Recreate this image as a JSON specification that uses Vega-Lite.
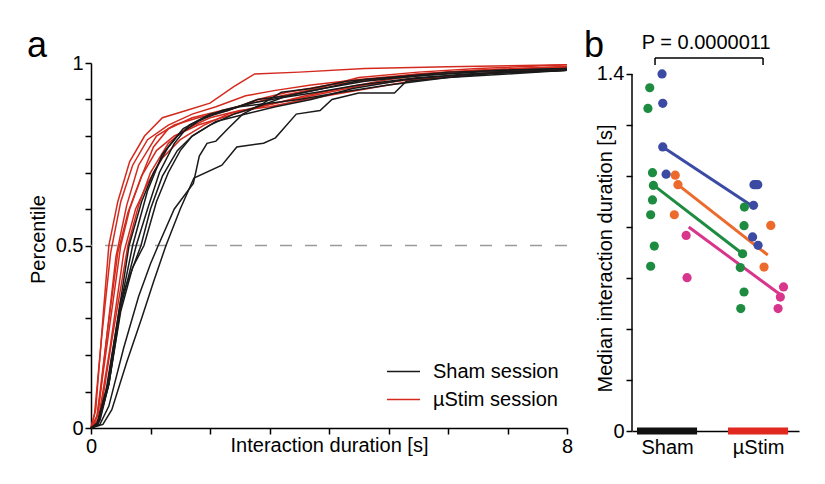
{
  "$schema": "https://vega.github.io/schema/vega-lite/v6.json",
  "padding": {"left": 26, "top": 27, "right": 20, "bottom": 10},
  "background": "white",
  "config": {
    "font": "Liberation Sans",
    "view": {"stroke": null},
    "axis": {
      "domainColor": "#000", "tickColor": "#000", "labelColor": "#000", "titleColor": "#000",
      "labelFontSize": 20, "titleFontSize": 20, "titleFontWeight": "normal",
      "domainWidth": 1.5, "tickWidth": 1.5, "tickSize": 6, "grid": false, "labelPadding": 2,
      "labelOverlap": false, "labelFlush": false, "labelFont": "Liberation Sans", "titleFont": "Liberation Sans"
    }
  },
  "datasets": {
    "cdf": [
      {"session":"µStim session","curve":"R1","t":0,"p":0},{"session":"µStim session","curve":"R1","t":0.08,"p":0.05},{"session":"µStim session","curve":"R1","t":0.2,"p":0.3},{"session":"µStim session","curve":"R1","t":0.3,"p":0.5},{"session":"µStim session","curve":"R1","t":0.45,"p":0.62},{"session":"µStim session","curve":"R1","t":0.65,"p":0.73},{"session":"µStim session","curve":"R1","t":0.9,"p":0.8},{"session":"µStim session","curve":"R1","t":1.2,"p":0.85},{"session":"µStim session","curve":"R1","t":1.6,"p":0.87},{"session":"µStim session","curve":"R1","t":2.0,"p":0.89},{"session":"µStim session","curve":"R1","t":2.4,"p":0.935},{"session":"µStim session","curve":"R1","t":2.6,"p":0.955},{"session":"µStim session","curve":"R1","t":2.75,"p":0.97},{"session":"µStim session","curve":"R1","t":3.5,"p":0.975},{"session":"µStim session","curve":"R1","t":4.6,"p":0.985},{"session":"µStim session","curve":"R1","t":6,"p":0.99},{"session":"µStim session","curve":"R1","t":8,"p":0.995},
      {"session":"µStim session","curve":"R2","t":0,"p":0},{"session":"µStim session","curve":"R2","t":0.12,"p":0.04},{"session":"µStim session","curve":"R2","t":0.3,"p":0.3},{"session":"µStim session","curve":"R2","t":0.42,"p":0.47},{"session":"µStim session","curve":"R2","t":0.6,"p":0.61},{"session":"µStim session","curve":"R2","t":0.8,"p":0.72},{"session":"µStim session","curve":"R2","t":1.1,"p":0.8},{"session":"µStim session","curve":"R2","t":1.4,"p":0.83},{"session":"µStim session","curve":"R2","t":1.8,"p":0.85},{"session":"µStim session","curve":"R2","t":2.3,"p":0.87},{"session":"µStim session","curve":"R2","t":2.8,"p":0.9},{"session":"µStim session","curve":"R2","t":3.3,"p":0.92},{"session":"µStim session","curve":"R2","t":4.0,"p":0.94},{"session":"µStim session","curve":"R2","t":4.8,"p":0.955},{"session":"µStim session","curve":"R2","t":5.5,"p":0.97},{"session":"µStim session","curve":"R2","t":6.5,"p":0.98},{"session":"µStim session","curve":"R2","t":8,"p":0.99},
      {"session":"µStim session","curve":"R3","t":0,"p":0},{"session":"µStim session","curve":"R3","t":0.1,"p":0.03},{"session":"µStim session","curve":"R3","t":0.28,"p":0.24},{"session":"µStim session","curve":"R3","t":0.5,"p":0.5},{"session":"µStim session","curve":"R3","t":0.65,"p":0.6},{"session":"µStim session","curve":"R3","t":0.85,"p":0.69},{"session":"µStim session","curve":"R3","t":1.05,"p":0.77},{"session":"µStim session","curve":"R3","t":1.3,"p":0.82},{"session":"µStim session","curve":"R3","t":1.7,"p":0.85},{"session":"µStim session","curve":"R3","t":2.2,"p":0.87},{"session":"µStim session","curve":"R3","t":2.7,"p":0.89},{"session":"µStim session","curve":"R3","t":3.2,"p":0.91},{"session":"µStim session","curve":"R3","t":3.8,"p":0.93},{"session":"µStim session","curve":"R3","t":4.5,"p":0.96},{"session":"µStim session","curve":"R3","t":5.5,"p":0.975},{"session":"µStim session","curve":"R3","t":6.5,"p":0.985},{"session":"µStim session","curve":"R3","t":8,"p":0.995},
      {"session":"µStim session","curve":"R4","t":0,"p":0},{"session":"µStim session","curve":"R4","t":0.15,"p":0.03},{"session":"µStim session","curve":"R4","t":0.35,"p":0.24},{"session":"µStim session","curve":"R4","t":0.62,"p":0.5},{"session":"µStim session","curve":"R4","t":0.8,"p":0.61},{"session":"µStim session","curve":"R4","t":1.0,"p":0.7},{"session":"µStim session","curve":"R4","t":1.3,"p":0.78},{"session":"µStim session","curve":"R4","t":1.6,"p":0.82},{"session":"µStim session","curve":"R4","t":2.0,"p":0.85},{"session":"µStim session","curve":"R4","t":2.5,"p":0.87},{"session":"µStim session","curve":"R4","t":3.0,"p":0.88},{"session":"µStim session","curve":"R4","t":3.6,"p":0.9},{"session":"µStim session","curve":"R4","t":4.3,"p":0.92},{"session":"µStim session","curve":"R4","t":5.0,"p":0.94},{"session":"µStim session","curve":"R4","t":5.8,"p":0.96},{"session":"µStim session","curve":"R4","t":6.8,"p":0.975},{"session":"µStim session","curve":"R4","t":8,"p":0.985},
      {"session":"µStim session","curve":"R5","t":0,"p":0},{"session":"µStim session","curve":"R5","t":0.06,"p":0.04},{"session":"µStim session","curve":"R5","t":0.18,"p":0.25},{"session":"µStim session","curve":"R5","t":0.33,"p":0.48},{"session":"µStim session","curve":"R5","t":0.5,"p":0.62},{"session":"µStim session","curve":"R5","t":0.7,"p":0.72},{"session":"µStim session","curve":"R5","t":0.95,"p":0.79},{"session":"µStim session","curve":"R5","t":1.3,"p":0.83},{"session":"µStim session","curve":"R5","t":1.7,"p":0.86},{"session":"µStim session","curve":"R5","t":2.1,"p":0.88},{"session":"µStim session","curve":"R5","t":2.6,"p":0.91},{"session":"µStim session","curve":"R5","t":3.1,"p":0.925},{"session":"µStim session","curve":"R5","t":3.7,"p":0.94},{"session":"µStim session","curve":"R5","t":4.5,"p":0.955},{"session":"µStim session","curve":"R5","t":5.5,"p":0.97},{"session":"µStim session","curve":"R5","t":6.5,"p":0.98},{"session":"µStim session","curve":"R5","t":8,"p":0.99},
      {"session":"µStim session","curve":"R6","t":0,"p":0},{"session":"µStim session","curve":"R6","t":0.12,"p":0.02},{"session":"µStim session","curve":"R6","t":0.32,"p":0.22},{"session":"µStim session","curve":"R6","t":0.55,"p":0.48},{"session":"µStim session","curve":"R6","t":0.75,"p":0.6},{"session":"µStim session","curve":"R6","t":0.95,"p":0.67},{"session":"µStim session","curve":"R6","t":1.2,"p":0.74},{"session":"µStim session","curve":"R6","t":1.5,"p":0.79},{"session":"µStim session","curve":"R6","t":1.9,"p":0.83},{"session":"µStim session","curve":"R6","t":2.3,"p":0.86},{"session":"µStim session","curve":"R6","t":2.8,"p":0.88},{"session":"µStim session","curve":"R6","t":3.4,"p":0.9},{"session":"µStim session","curve":"R6","t":4.0,"p":0.92},{"session":"µStim session","curve":"R6","t":4.6,"p":0.94},{"session":"µStim session","curve":"R6","t":5.4,"p":0.955},{"session":"µStim session","curve":"R6","t":6.5,"p":0.97},{"session":"µStim session","curve":"R6","t":8,"p":0.985},
      {"session":"µStim session","curve":"R7","t":0,"p":0},{"session":"µStim session","curve":"R7","t":0.1,"p":0.03},{"session":"µStim session","curve":"R7","t":0.28,"p":0.27},{"session":"µStim session","curve":"R7","t":0.45,"p":0.48},{"session":"µStim session","curve":"R7","t":0.62,"p":0.59},{"session":"µStim session","curve":"R7","t":0.85,"p":0.69},{"session":"µStim session","curve":"R7","t":1.1,"p":0.76},{"session":"µStim session","curve":"R7","t":1.4,"p":0.8},{"session":"µStim session","curve":"R7","t":1.8,"p":0.83},{"session":"µStim session","curve":"R7","t":2.2,"p":0.85},{"session":"µStim session","curve":"R7","t":2.6,"p":0.87},{"session":"µStim session","curve":"R7","t":3.1,"p":0.89},{"session":"µStim session","curve":"R7","t":3.6,"p":0.91},{"session":"µStim session","curve":"R7","t":4.2,"p":0.93},{"session":"µStim session","curve":"R7","t":5.0,"p":0.955},{"session":"µStim session","curve":"R7","t":6.0,"p":0.975},{"session":"µStim session","curve":"R7","t":8,"p":0.99},
      {"session":"Sham session","curve":"B1","t":0,"p":0},{"session":"Sham session","curve":"B1","t":0.2,"p":0.01},{"session":"Sham session","curve":"B1","t":0.35,"p":0.05},{"session":"Sham session","curve":"B1","t":0.6,"p":0.18},{"session":"Sham session","curve":"B1","t":0.85,"p":0.3},{"session":"Sham session","curve":"B1","t":1.05,"p":0.4},{"session":"Sham session","curve":"B1","t":1.26,"p":0.5},{"session":"Sham session","curve":"B1","t":1.5,"p":0.6},{"session":"Sham session","curve":"B1","t":1.73,"p":0.685},{"session":"Sham session","curve":"B1","t":2.2,"p":0.72},{"session":"Sham session","curve":"B1","t":2.45,"p":0.77},{"session":"Sham session","curve":"B1","t":2.9,"p":0.78},{"session":"Sham session","curve":"B1","t":3.1,"p":0.795},{"session":"Sham session","curve":"B1","t":3.45,"p":0.86},{"session":"Sham session","curve":"B1","t":3.85,"p":0.87},{"session":"Sham session","curve":"B1","t":4.05,"p":0.9},{"session":"Sham session","curve":"B1","t":4.5,"p":0.918},{"session":"Sham session","curve":"B1","t":5.1,"p":0.918},{"session":"Sham session","curve":"B1","t":5.3,"p":0.95},{"session":"Sham session","curve":"B1","t":6.0,"p":0.96},{"session":"Sham session","curve":"B1","t":7.0,"p":0.975},{"session":"Sham session","curve":"B1","t":8,"p":0.98},
      {"session":"Sham session","curve":"B2","t":0,"p":0},{"session":"Sham session","curve":"B2","t":0.15,"p":0.01},{"session":"Sham session","curve":"B2","t":0.3,"p":0.06},{"session":"Sham session","curve":"B2","t":0.55,"p":0.22},{"session":"Sham session","curve":"B2","t":0.8,"p":0.36},{"session":"Sham session","curve":"B2","t":1.0,"p":0.45},{"session":"Sham session","curve":"B2","t":1.13,"p":0.5},{"session":"Sham session","curve":"B2","t":1.4,"p":0.6},{"session":"Sham session","curve":"B2","t":1.72,"p":0.67},{"session":"Sham session","curve":"B2","t":1.82,"p":0.745},{"session":"Sham session","curve":"B2","t":1.95,"p":0.78},{"session":"Sham session","curve":"B2","t":2.1,"p":0.786},{"session":"Sham session","curve":"B2","t":2.3,"p":0.82},{"session":"Sham session","curve":"B2","t":2.55,"p":0.86},{"session":"Sham session","curve":"B2","t":2.9,"p":0.89},{"session":"Sham session","curve":"B2","t":3.2,"p":0.92},{"session":"Sham session","curve":"B2","t":3.7,"p":0.93},{"session":"Sham session","curve":"B2","t":4.3,"p":0.95},{"session":"Sham session","curve":"B2","t":5.0,"p":0.96},{"session":"Sham session","curve":"B2","t":6.0,"p":0.975},{"session":"Sham session","curve":"B2","t":8,"p":0.985},
      {"session":"Sham session","curve":"B3","t":0,"p":0},{"session":"Sham session","curve":"B3","t":0.12,"p":0.01},{"session":"Sham session","curve":"B3","t":0.3,"p":0.12},{"session":"Sham session","curve":"B3","t":0.5,"p":0.32},{"session":"Sham session","curve":"B3","t":0.7,"p":0.44},{"session":"Sham session","curve":"B3","t":0.89,"p":0.5},{"session":"Sham session","curve":"B3","t":1.1,"p":0.62},{"session":"Sham session","curve":"B3","t":1.3,"p":0.7},{"session":"Sham session","curve":"B3","t":1.5,"p":0.76},{"session":"Sham session","curve":"B3","t":1.7,"p":0.8},{"session":"Sham session","curve":"B3","t":2.0,"p":0.83},{"session":"Sham session","curve":"B3","t":2.4,"p":0.86},{"session":"Sham session","curve":"B3","t":2.8,"p":0.88},{"session":"Sham session","curve":"B3","t":3.3,"p":0.91},{"session":"Sham session","curve":"B3","t":3.9,"p":0.93},{"session":"Sham session","curve":"B3","t":4.6,"p":0.95},{"session":"Sham session","curve":"B3","t":5.5,"p":0.965},{"session":"Sham session","curve":"B3","t":6.5,"p":0.975},{"session":"Sham session","curve":"B3","t":8,"p":0.98},
      {"session":"Sham session","curve":"B4","t":0,"p":0},{"session":"Sham session","curve":"B4","t":0.1,"p":0.01},{"session":"Sham session","curve":"B4","t":0.25,"p":0.1},{"session":"Sham session","curve":"B4","t":0.45,"p":0.3},{"session":"Sham session","curve":"B4","t":0.64,"p":0.5},{"session":"Sham session","curve":"B4","t":0.85,"p":0.62},{"session":"Sham session","curve":"B4","t":1.05,"p":0.7},{"session":"Sham session","curve":"B4","t":1.3,"p":0.77},{"session":"Sham session","curve":"B4","t":1.55,"p":0.82},{"session":"Sham session","curve":"B4","t":1.9,"p":0.85},{"session":"Sham session","curve":"B4","t":2.3,"p":0.87},{"session":"Sham session","curve":"B4","t":2.8,"p":0.9},{"session":"Sham session","curve":"B4","t":3.3,"p":0.91},{"session":"Sham session","curve":"B4","t":3.9,"p":0.93},{"session":"Sham session","curve":"B4","t":4.6,"p":0.955},{"session":"Sham session","curve":"B4","t":5.5,"p":0.965},{"session":"Sham session","curve":"B4","t":6.8,"p":0.98},{"session":"Sham session","curve":"B4","t":8,"p":0.985},
      {"session":"Sham session","curve":"B5","t":0,"p":0},{"session":"Sham session","curve":"B5","t":0.12,"p":0.01},{"session":"Sham session","curve":"B5","t":0.3,"p":0.12},{"session":"Sham session","curve":"B5","t":0.5,"p":0.33},{"session":"Sham session","curve":"B5","t":0.76,"p":0.5},{"session":"Sham session","curve":"B5","t":0.95,"p":0.6},{"session":"Sham session","curve":"B5","t":1.15,"p":0.7},{"session":"Sham session","curve":"B5","t":1.4,"p":0.78},{"session":"Sham session","curve":"B5","t":1.65,"p":0.83},{"session":"Sham session","curve":"B5","t":2.0,"p":0.86},{"session":"Sham session","curve":"B5","t":2.5,"p":0.88},{"session":"Sham session","curve":"B5","t":3.0,"p":0.89},{"session":"Sham session","curve":"B5","t":3.5,"p":0.9},{"session":"Sham session","curve":"B5","t":4.2,"p":0.92},{"session":"Sham session","curve":"B5","t":5.0,"p":0.94},{"session":"Sham session","curve":"B5","t":6.0,"p":0.96},{"session":"Sham session","curve":"B5","t":7.0,"p":0.97},{"session":"Sham session","curve":"B5","t":8,"p":0.98},
      {"session":"Sham session","curve":"B6","t":0,"p":0},{"session":"Sham session","curve":"B6","t":0.1,"p":0.01},{"session":"Sham session","curve":"B6","t":0.28,"p":0.12},{"session":"Sham session","curve":"B6","t":0.5,"p":0.35},{"session":"Sham session","curve":"B6","t":0.84,"p":0.5},{"session":"Sham session","curve":"B6","t":1.0,"p":0.6},{"session":"Sham session","curve":"B6","t":1.2,"p":0.69},{"session":"Sham session","curve":"B6","t":1.45,"p":0.76},{"session":"Sham session","curve":"B6","t":1.7,"p":0.8},{"session":"Sham session","curve":"B6","t":2.1,"p":0.84},{"session":"Sham session","curve":"B6","t":2.6,"p":0.86},{"session":"Sham session","curve":"B6","t":3.1,"p":0.88},{"session":"Sham session","curve":"B6","t":3.7,"p":0.9},{"session":"Sham session","curve":"B6","t":4.4,"p":0.93},{"session":"Sham session","curve":"B6","t":5.3,"p":0.955},{"session":"Sham session","curve":"B6","t":6.3,"p":0.97},{"session":"Sham session","curve":"B6","t":8,"p":0.98},
      {"session":"Sham session","curve":"B7","t":0,"p":0},{"session":"Sham session","curve":"B7","t":0.15,"p":0.02},{"session":"Sham session","curve":"B7","t":0.3,"p":0.12},{"session":"Sham session","curve":"B7","t":0.5,"p":0.34},{"session":"Sham session","curve":"B7","t":0.7,"p":0.5},{"session":"Sham session","curve":"B7","t":0.95,"p":0.65},{"session":"Sham session","curve":"B7","t":1.2,"p":0.75},{"session":"Sham session","curve":"B7","t":1.45,"p":0.8},{"session":"Sham session","curve":"B7","t":1.8,"p":0.84},{"session":"Sham session","curve":"B7","t":2.2,"p":0.87},{"session":"Sham session","curve":"B7","t":2.7,"p":0.89},{"session":"Sham session","curve":"B7","t":3.2,"p":0.905},{"session":"Sham session","curve":"B7","t":3.8,"p":0.92},{"session":"Sham session","curve":"B7","t":4.5,"p":0.94},{"session":"Sham session","curve":"B7","t":5.5,"p":0.96},{"session":"Sham session","curve":"B7","t":6.5,"p":0.97},{"session":"Sham session","curve":"B7","t":8,"p":0.98}
    ],
    "pts": [
      {"cond":"Sham","mouse":"Mouse 1","x":0.945,"y":1.40},
      {"cond":"Sham","mouse":"Mouse 3","x":0.81,"y":1.346},
      {"cond":"Sham","mouse":"Mouse 1","x":0.953,"y":1.285},
      {"cond":"Sham","mouse":"Mouse 3","x":0.79,"y":1.265},
      {"cond":"Sham","mouse":"Mouse 1","x":0.953,"y":1.114},
      {"cond":"Sham","mouse":"Mouse 3","x":0.84,"y":1.013},
      {"cond":"Sham","mouse":"Mouse 1","x":0.99,"y":1.007},
      {"cond":"Sham","mouse":"Mouse 2","x":1.09,"y":1.003},
      {"cond":"Sham","mouse":"Mouse 3","x":0.85,"y":0.963},
      {"cond":"Sham","mouse":"Mouse 2","x":1.12,"y":0.966},
      {"cond":"Sham","mouse":"Mouse 3","x":0.84,"y":0.906},
      {"cond":"Sham","mouse":"Mouse 3","x":0.82,"y":0.848},
      {"cond":"Sham","mouse":"Mouse 2","x":1.08,"y":0.848},
      {"cond":"Sham","mouse":"Mouse 4","x":1.21,"y":0.767},
      {"cond":"Sham","mouse":"Mouse 3","x":0.86,"y":0.725},
      {"cond":"Sham","mouse":"Mouse 3","x":0.82,"y":0.646},
      {"cond":"Sham","mouse":"Mouse 4","x":1.22,"y":0.601},
      {"cond":"µStim","mouse":"Mouse 1","x":1.955,"y":0.966},
      {"cond":"µStim","mouse":"Mouse 1","x":1.975,"y":0.966},
      {"cond":"µStim","mouse":"Mouse 1","x":1.997,"y":0.966},
      {"cond":"µStim","mouse":"Mouse 1","x":1.95,"y":0.885},
      {"cond":"µStim","mouse":"Mouse 3","x":1.85,"y":0.878},
      {"cond":"µStim","mouse":"Mouse 3","x":1.846,"y":0.805},
      {"cond":"µStim","mouse":"Mouse 2","x":2.14,"y":0.806},
      {"cond":"µStim","mouse":"Mouse 1","x":1.94,"y":0.761},
      {"cond":"µStim","mouse":"Mouse 1","x":2.0,"y":0.728},
      {"cond":"µStim","mouse":"Mouse 3","x":1.83,"y":0.695},
      {"cond":"µStim","mouse":"Mouse 3","x":1.805,"y":0.641},
      {"cond":"µStim","mouse":"Mouse 2","x":2.066,"y":0.643},
      {"cond":"µStim","mouse":"Mouse 4","x":2.28,"y":0.565},
      {"cond":"µStim","mouse":"Mouse 4","x":2.245,"y":0.525},
      {"cond":"µStim","mouse":"Mouse 3","x":1.846,"y":0.545},
      {"cond":"µStim","mouse":"Mouse 3","x":1.81,"y":0.48},
      {"cond":"µStim","mouse":"Mouse 4","x":2.22,"y":0.48}
    ],
    "fits": [
      {"mouse":"Mouse 1","x":0.953,"y":1.114},{"mouse":"Mouse 1","x":1.96,"y":0.876},
      {"mouse":"Mouse 2","x":1.118,"y":0.966},{"mouse":"Mouse 2","x":2.107,"y":0.69},
      {"mouse":"Mouse 3","x":0.854,"y":0.963},{"mouse":"Mouse 3","x":1.83,"y":0.695},
      {"mouse":"Mouse 4","x":1.238,"y":0.8},{"mouse":"Mouse 4","x":2.24,"y":0.536}
    ],
    "bars": [
      {"cond":"Sham","x1":0.67,"x2":1.33},
      {"cond":"µStim","x1":1.67,"x2":2.33}
    ]
  },
  "spacing": 65,
  "bounds": "flush",
  "resolve": {"scale": {"color": "independent"}},
  "hconcat": [
    {
      "width": 476,
      "height": 365,
      "layer": [
        {
          "data": {"values": [{}]},
          "mark": {"type": "rule", "color": "#9a9a9a", "strokeWidth": 1.5, "strokeDash": [12, 13]},
          "encoding": {"y": {"datum": 0.5, "type": "quantitative", "scale": {"domain": [0, 1], "nice": false},
                  "axis": {"values": [0,0.1,0.2,0.3,0.4,0.5,0.6,0.7,0.8,0.9,1], "tickCount": 20, "labelExpr": "abs(datum.value) < 0.01 ? '0' : abs(datum.value - 0.5) < 0.01 ? '0.5' : abs(datum.value - 1) < 0.01 ? '1' : ''", "title": "Percentile", "titleX": -43, "titleY": 176, "titleBaseline": "bottom"}}}
        },
        {
          "data": {"name": "cdf"},
          "mark": {"type": "line", "strokeWidth": 1.5},
          "encoding": {
            "x": {"field": "t", "type": "quantitative", "scale": {"domain": [0, 8], "nice": false},
                  "axis": {"values": [0,1,2,3,4,5,6,7,8], "tickCount": 20, "labelExpr": "abs(datum.value) < 0.01 ? '0' : abs(datum.value - 8) < 0.01 ? '8' : ''", "title": "Interaction duration [s]", "titleBaseline": "top", "titleY": 7}},
            "y": {"field": "p", "type": "quantitative", "scale": {"domain": [0, 1], "nice": false},
                  "axis": {"values": [0,0.1,0.2,0.3,0.4,0.5,0.6,0.7,0.8,0.9,1], "tickCount": 20, "labelExpr": "abs(datum.value) < 0.01 ? '0' : abs(datum.value - 0.5) < 0.01 ? '0.5' : abs(datum.value - 1) < 0.01 ? '1' : ''", "title": "Percentile", "titleX": -43, "titleY": 176, "titleBaseline": "bottom"}},
            "color": {"field": "session", "type": "nominal",
                      "scale": {"domain": ["Sham session", "µStim session"], "range": ["#1a1a1a", "#d42a1e"]},
                      "legend": {"orient": "none", "legendX": 295, "legendY": 291, "title": null, "symbolType": "stroke", "symbolSize": 1089, "symbolStrokeWidth": 1.5, "labelFontSize": 20, "labelFont": "Liberation Sans", "labelColor": "#000", "labelOffset": 12, "rowPadding": -12, "padding": 0}},
            "detail": {"field": "curve", "type": "nominal"}
          }
        },
        {
          "data": {"values": [{}]},
          "mark": {"type": "text", "fontSize": 36, "font": "Liberation Sans", "color": "#000", "align": "left", "baseline": "alphabetic"},
          "encoding": {"x": {"datum": -1.076, "type": "quantitative"}, "y": {"datum": 1.0164, "type": "quantitative"}, "text": {"value": "a"}}
        }
      ]
    },
    {
      "width": 167,
      "height": 368,
      "resolve": {"scale": {"color": "independent"}},
      "layer": [
        {
          "data": {"name": "fits"},
          "mark": {"type": "line", "strokeWidth": 3},
          "encoding": {
            "x": {"field": "x", "type": "quantitative", "scale": {"domain": [0.615, 2.45], "nice": false, "zero": false},
                  "axis": {"values": [1, 2], "labelExpr": "datum.value < 1.5 ? 'Sham' : 'µStim'", "ticks": false, "labelPadding": 6, "title": null}},
            "y": {"field": "y", "type": "quantitative", "scale": {"domain": [0, 1.443], "nice": false},
                  "axis": {"values": [0,0.2,0.4,0.6,0.8,1,1.2,1.4], "tickCount": 20, "domain": false, "labelExpr": "abs(datum.value) < 0.01 ? '0' : abs(datum.value - 1.4) < 0.01 ? '1.4' : ''", "title": "Median interaction duration [s]", "titleX": -17, "titleY": 195, "titleBaseline": "bottom"}},
            "color": {"field": "mouse", "type": "nominal", "scale": {"domain": ["Mouse 1","Mouse 2","Mouse 3","Mouse 4"], "range": ["#3b4aa3","#ec6a2c","#1e8c40","#d8368c"]}, "legend": null},
            "detail": {"field": "mouse", "type": "nominal"}
          }
        },
        {
          "data": {"name": "pts"},
          "mark": {"type": "circle", "size": 85, "opacity": 1},
          "encoding": {
            "x": {"field": "x", "type": "quantitative"},
            "y": {"field": "y", "type": "quantitative"},
            "color": {"field": "mouse", "type": "nominal", "scale": {"domain": ["Mouse 1","Mouse 2","Mouse 3","Mouse 4"], "range": ["#3b4aa3","#ec6a2c","#1e8c40","#d8368c"]}, "legend": null}
          }
        },
        {
          "data": {"values": [{}]},
          "mark": {"type": "rule", "color": "#000", "strokeWidth": 1.5},
          "encoding": {"x": {"datum": 0.615, "type": "quantitative"}, "y": {"datum": 0, "type": "quantitative"}, "y2": {"datum": 1.4}}
        },
        {
          "data": {"values": [{}]},
          "mark": {"type": "rule", "color": "#000", "strokeWidth": 1.5},
          "encoding": {"x": {"datum": 0.868, "type": "quantitative"}, "x2": {"datum": 2.055}, "y": {"datum": 1.463, "type": "quantitative"}}
        },
        {
          "data": {"values": [{}]},
          "mark": {"type": "rule", "color": "#000", "strokeWidth": 1.5},
          "encoding": {"x": {"datum": 0.868, "type": "quantitative"}, "y": {"datum": 1.463, "type": "quantitative"}, "y2": {"datum": 1.435}}
        },
        {
          "data": {"values": [{}]},
          "mark": {"type": "rule", "color": "#000", "strokeWidth": 1.5},
          "encoding": {"x": {"datum": 2.055, "type": "quantitative"}, "y": {"datum": 1.463, "type": "quantitative"}, "y2": {"datum": 1.435}}
        },
        {
          "data": {"values": [{}]},
          "mark": {"type": "text", "fontSize": 20, "font": "Liberation Sans", "color": "#000", "baseline": "middle", "align": "center"},
          "encoding": {"x": {"datum": 1.43, "type": "quantitative"}, "y": {"datum": 1.52, "type": "quantitative"}, "text": {"value": "P = 0.0000011"}}
        },
        {
          "data": {"values": [{}]},
          "mark": {"type": "text", "fontSize": 36, "font": "Liberation Sans", "color": "#000", "align": "left", "baseline": "alphabetic"},
          "encoding": {"x": {"datum": 0.088, "type": "quantitative"}, "y": {"datum": 1.467, "type": "quantitative"}, "text": {"value": "b"}}
        },
        {
          "data": {"name": "bars"},
          "mark": {"type": "rule", "strokeWidth": 7, "strokeCap": "butt"},
          "encoding": {
            "x": {"field": "x1", "type": "quantitative"},
            "x2": {"field": "x2"},
            "y": {"datum": 0, "type": "quantitative"},
            "color": {"field": "cond", "type": "nominal", "scale": {"domain": ["Sham", "µStim"], "range": ["#111111", "#e0281e"]}, "legend": null}
          }
        }
      ]
    }
  ]
}
